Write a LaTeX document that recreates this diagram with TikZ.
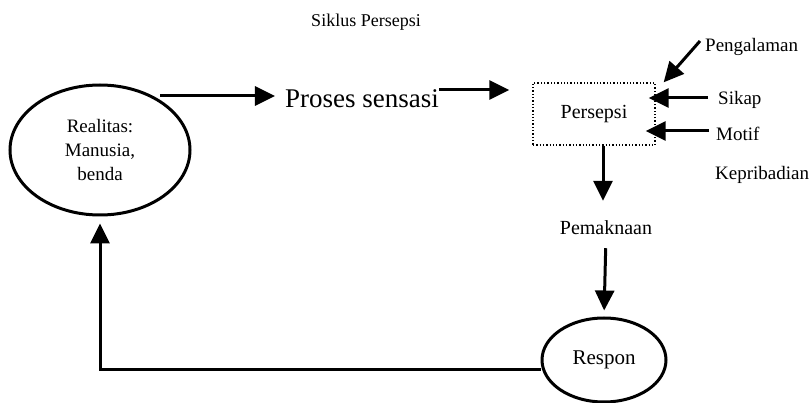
\documentclass[tikz,border=0pt]{standalone}
\usepackage{fontspec}
\setmainfont{Liberation Serif}
\usetikzlibrary{arrows.meta,shapes.geometric}
\newlength{\du}
\setlength{\du}{1pt}
\tikzset{
  blackarrow/.style={line width=3\du, -{Triangle[length=20pt,width=19pt]}},
  ovalnode/.style={ellipse, draw, line width=3\du, inner sep=0pt, align=center,
    font=\fontsize{19}{24}\selectfont},
  plainlabel/.style={inner sep=0pt, font=\fontsize{19}{22}\selectfont},
}
\begin{document}
\begin{tikzpicture}[x=1\du,y=-1\du]
\useasboundingbox (0,0) rectangle (809,403);
\node[plainlabel, font=\fontsize{18}{21}\selectfont] (title) at (366,22) {Siklus Persepsi};
\node[ovalnode, minimum width=180\du, minimum height=130\du] (realitas) at (100,150) {Realitas:\\Manusia,\\benda};
\node[plainlabel, font=\fontsize{27}{32}\selectfont] (proses) at (362,99) {Proses sensasi};
\node[plainlabel, draw, dotted, line width=1.3\du, minimum width=122\du, minimum height=62\du, font=\fontsize{20}{24}\selectfont] (persepsi) at (594,114) {Persepsi};
\node[plainlabel, anchor=west] (pengalaman) at (705,47) {Pengalaman};
\node[plainlabel, anchor=west] (sikap) at (718,100) {Sikap};
\node[plainlabel, anchor=west] (motif) at (716,134) {Motif};
\node[plainlabel, anchor=west] (kepribadian) at (715,175) {Kepribadian};
\node[plainlabel, font=\fontsize{20}{24}\selectfont] (pemaknaan) at (606,228) {Pemaknaan};
\node[ovalnode, minimum width=124\du, minimum height=84\du, font=\fontsize{21}{25}\selectfont] (respon) at (604,360) {Respon};
% alur utama
\coordinate (r1) at (160,96);
\coordinate (s1) at (0,90);
\coordinate (c3) at ([xshift=9\du]persepsi.south);
\coordinate (c5) at (0,370);
\draw[blackarrow, shorten >=10\du] (r1) -- (proses.west |- r1);
\draw[blackarrow, shorten >=23\du] (proses.east |- s1) -- (persepsi.west |- s1);
\draw[blackarrow, shorten >=20\du] (c3) -- (c3 |- pemaknaan.north);
\draw[blackarrow, shorten <=13\du, shorten >=6\du] (pemaknaan.south) -- (respon.north);
\draw[blackarrow, shorten >=7\du] (respon.west |- c5) -| (realitas.south);
% faktor
\coordinate (p1) at (700,41);
\coordinate (p2) at ([xshift=8\du]persepsi.north east);
\coordinate (k1) at ([yshift=2\du]sikap.west);
\coordinate (k2) at ([yshift=3\du]motif.west);
\draw[blackarrow] (p1) -- (p2);
\draw[blackarrow, shorten <=10\du, shorten >=-7\du] (k1) -- (persepsi.east |- k1);
\draw[blackarrow, shorten <=7\du, shorten >=-10\du] (k2) -- (persepsi.east |- k2);
\end{tikzpicture}
\end{document}
